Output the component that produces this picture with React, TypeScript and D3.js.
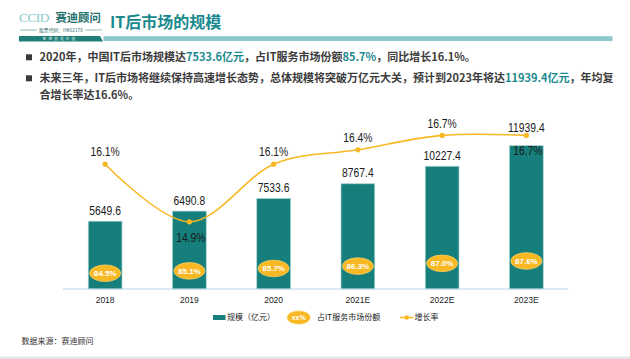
import React from 'react';
import * as d3 from 'd3';

const categories = ['2018', '2019', '2020', '2021E', '2022E', '2023E'];
const scaleValues = [5649.6, 6490.8, 7533.6, 8767.4, 10227.4, 11939.4];
const shareValues = [84.5, 85.1, 85.7, 86.3, 87.0, 87.6];
const growthValues = [16.1, 14.9, 16.1, 16.4, 16.7, 16.7];
const growthLabelBelow = [false, true, false, false, false, true];
const valueLabelRaised = [false, false, false, false, false, true];
const legendLabels = ['规模（亿元）', '占IT服务市场份额', '增长率'];
const title = 'IT后市场的规模';
const sourceText = '数据来源：赛迪顾问';

const W = 630;
const H = 359;
const TEAL = '#167f7b';
const GOLD = '#f8b824';
const HL = '#1a8a8e';
const TXT = '#3c3c3c';
const CJK = "'Noto Sans CJK SC', 'Noto Sans', sans-serif";
const NUM = "'Liberation Sans', Arial, sans-serif";

function NarrowText({ x, y, children, size = 12, sx = 0.86, fill = '#1a1a1a' }: any) {
  return (
    <text
      transform={`translate(${x},${y}) scale(${sx},1)`}
      dy="0.35em"
      textAnchor="middle"
      fontFamily={NUM}
      fontSize={size}
      fill={fill}
    >
      {children}
    </text>
  );
}

export default function App() {
  const x = d3
    .scaleBand<string>()
    .domain(categories)
    .range([63, 568.5])
    .paddingInner(0.6)
    .paddingOuter(0.3);
  const yBar = d3.scaleLinear().domain([0, 15000]).range([289, 109]);
  const yGrowth = d3.scaleLinear().domain([13.5, 17.5]).range([289, 97]);
  const yShare = d3.scaleLinear().domain([80, 90]).range([291, 251.5]);
  const cx = (c: string) => (x(c) as number) + x.bandwidth() / 2;

  const linePath = d3
    .line<number>()
    .x((_, i) => cx(categories[i]))
    .y((d) => yGrowth(d))
    .curve(d3.curveCardinal.tension(0))(growthValues) as string;

  return (
    <svg
      width={W}
      height={H}
      viewBox={`0 0 ${W} ${H}`}
      style={{ position: 'absolute', left: 0, top: 0, background: '#fff' }}
    >
      {/* Logo */}
      <text x={19} y={21.5} fontFamily="'Liberation Serif', 'DejaVu Serif', serif" fontSize={13.5} fill="#8ccaca" letterSpacing={-0.6}>
        CCID
      </text>
      <text x={55.5} y={21.5} fontFamily={CJK} fontWeight={700} fontSize={11.3} fill="#1f6f6c">
        赛迪顾问
      </text>
      <line x1={20} x2={37} y1={30} y2={30} stroke="#3f8f8c" strokeWidth={0.6} />
      <line x1={85} x2={102} y1={30} y2={30} stroke="#3f8f8c" strokeWidth={0.6} />
      <text x={61} y={31.8} textAnchor="middle" fontFamily={CJK} fontSize={4.8} fill="#2d6f6d">
        股票代码：HK02176
      </text>
      <polygon points="19,36 100,36 103,41.5 19,41.5" fill="#1f7e78" />
      <text x={60} y={40.4} textAnchor="middle" fontFamily={CJK} fontSize={3.6} fill="#e8f4f3" letterSpacing={2.2}>
        思想创造价值
      </text>
      <rect x={103.5} y={36.2} width={509} height={4.8} fill="#8cc8cb" />
      <text x={110} y={27.5} fontFamily={CJK} fontWeight={700} fontSize={16} fill={HL}>
        {title}
      </text>

      {/* Bullets */}
      <rect x={26} y={54.3} width={6} height={6} fill="#3a3a3a" />
      <rect x={26} y={75.3} width={6} height={6} fill="#3a3a3a" />
      <g fontFamily={CJK} fontWeight={700} fontSize={11} fill={TXT}>
        <text x={39.5} y={61.2}>
          2020年，中国IT后市场规模达<tspan fill={HL}>7533.6亿元</tspan>，占IT服务市场份额
          <tspan fill={HL}>85.7%</tspan>，同比增长16.1%。
        </text>
        <text x={39.5} y={82.2}>
          未来三年，IT后市场将继续保持高速增长态势，总体规模将突破万亿元大关，预计到2023年将达
          <tspan fill={HL}>11939.4亿元</tspan>，年均复
        </text>
        <text x={39.5} y={99.2}>合增长率达16.6%。</text>
      </g>

      {/* Bars */}
      {categories.map((c, i) => (
        <rect
          key={'b' + c}
          x={x(c)}
          y={yBar(scaleValues[i])}
          width={x.bandwidth()}
          height={yBar(0) - yBar(scaleValues[i])}
          fill={TEAL}
          stroke="#9fd0cd"
          strokeWidth={0.7}
        />
      ))}

      {/* Baseline */}
      <line x1={63} x2={568.5} y1={yBar(0)} y2={yBar(0)} stroke="#b9d4ea" strokeWidth={1.2} />

      {/* Value labels */}
      {categories.map((c, i) => (
        <NarrowText key={'v' + c} x={cx(c)} y={yBar(scaleValues[i]) - (valueLabelRaised[i] ? 18 : 10.5)}>
          {scaleValues[i].toFixed(1)}
        </NarrowText>
      ))}

      {/* Growth line */}
      <path d={linePath} fill="none" stroke={GOLD} strokeWidth={1.6} />
      {categories.map((c, i) => (
        <circle key={'p' + c} cx={cx(c)} cy={yGrowth(growthValues[i])} r={2.6} fill={GOLD} />
      ))}
      {categories.map((c, i) => (
        <NarrowText
          key={'g' + c}
          x={cx(c) + (growthLabelBelow[i] ? 1.5 : 0)}
          y={yGrowth(growthValues[i]) + (growthLabelBelow[i] ? 15.5 : -12)}
        >
          {growthValues[i].toFixed(1)}%
        </NarrowText>
      ))}

      {/* Share ovals */}
      {categories.map((c, i) => (
        <g key={'s' + c}>
          <ellipse
            cx={cx(c)}
            cy={yShare(shareValues[i])}
            rx={15.5}
            ry={8.3}
            fill={GOLD}
            stroke="#fbd067"
            strokeWidth={0.8}
          />
          <text
            x={cx(c)}
            y={yShare(shareValues[i])}
            dy="0.35em"
            textAnchor="middle"
            fontFamily="'Liberation Sans', Arial, sans-serif"
            fontWeight={700}
            fontSize={8}
            fill="#fff"
          >
            {shareValues[i].toFixed(1)}%
          </text>
        </g>
      ))}

      {/* X axis labels */}
      {categories.map((c) => (
        <text
          key={'x' + c}
          x={cx(c)}
          y={300}
          dy="0.35em"
          textAnchor="middle"
          fontFamily="'Liberation Sans', Arial, sans-serif"
          fontSize={8.5}
          fill="#222"
        >
          {c}
        </text>
      ))}

      {/* Legend */}
      <g fontFamily={CJK} fontSize={8} fill="#222">
        <rect x={213} y={315} width={12.5} height={5} fill={TEAL} />
        <text x={227} y={317.5} dy="0.35em">{legendLabels[0]}</text>
        <ellipse cx={298.7} cy={317.5} rx={11.5} ry={6.6} fill={GOLD} stroke="#fbd067" strokeWidth={0.8} />
        <text x={298.7} y={317.5} dy="0.35em" textAnchor="middle" fontFamily="'Liberation Sans', Arial, sans-serif" fontWeight={700} fontSize={7} fill="#fff">
          xx%
        </text>
        <text x={317} y={317.5} dy="0.35em">{legendLabels[1]}</text>
        <line x1={400} x2={413.5} y1={317.5} y2={317.5} stroke={GOLD} strokeWidth={1.6} />
        <circle cx={406.7} cy={317.5} r={2.2} fill={GOLD} />
        <text x={414.5} y={317.5} dy="0.35em">{legendLabels[2]}</text>
      </g>

      {/* Source */}
      <text x={21.5} y={341} dy="0.35em" fontFamily={CJK} fontSize={8} fill="#333">
        {sourceText}
      </text>

      {/* Bottom band */}
      <rect x={0} y={356.5} width={W} height={2.5} fill="#e4e4e4" />
    </svg>
  );
}
